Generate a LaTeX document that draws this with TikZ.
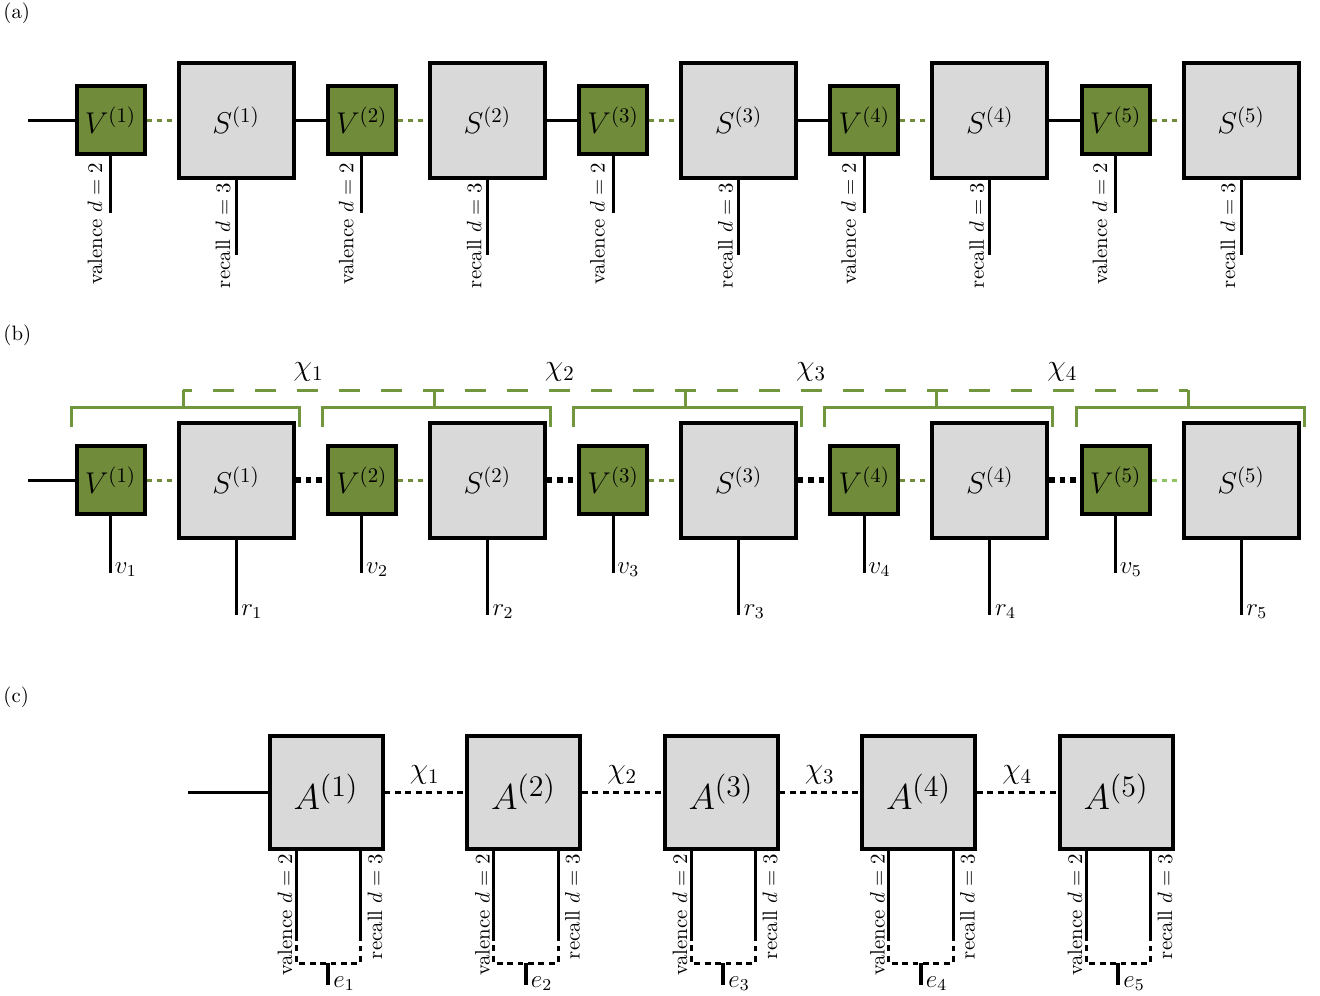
\documentclass[tikz,border=0pt]{standalone}
\usepackage{amsmath}
\definecolor{vgreen}{RGB}{112,139,58}
\definecolor{bgreen}{RGB}{114,150,62}
\definecolor{lgreen}{RGB}{144,196,96}
\definecolor{sgray}{RGB}{217,217,217}
\tikzset{
  vbox/.style={draw, line width=1.92pt, fill=vgreen, minimum size=32.64pt, inner sep=0pt, font=\Large},
  sbox/.style={draw, line width=1.92pt, fill=sgray, minimum size=55.2pt, inner sep=0pt, font=\Large},
  abox/.style={draw, line width=1.92pt, fill=sgray, minimum size=54.24pt, inner sep=0pt, font=\fontsize{19}{23}\selectfont},
  wire/.style={line width=1.44pt},
  gdot/.style={vgreen, line width=1.44pt, dash pattern=on 2.4pt off 2.4pt},
  ldot/.style={lgreen, line width=1.44pt, dash pattern=on 2.4pt off 2.4pt},
  kdot/.style={line width=2.7pt, dash pattern=on 2.6pt off 2.4pt},
  cdash/.style={line width=1.44pt, dash pattern=on 2.8pt off 2.2pt},
  brk/.style={bgreen, line width=1.44pt},
  bdash/.style={bgreen, line width=1.44pt, dash pattern=on 10.08pt off 10.08pt, dash phase=5.76pt},
  vlab/.style={rotate=90, anchor=base east, inner sep=0pt, font=\normalsize},
  idx/.style={anchor=base west, inner sep=0pt, font=\large},
  chilab/.style={midway, anchor=south, inner sep=0pt, font=\Large, text=black},
  panel/.style={anchor=north west, inner sep=0pt, font=\normalsize}
}
\begin{document}
\begin{tikzpicture}[x=0.48pt,y=-0.48pt]
\useasboundingbox (0,0) rectangle (1320,996);
\node[panel] (pa) at (3,2) {(a)};
\node[panel] (pb) at (3,324) {(b)};
\node[panel] (pc) at (3,686) {(c)};

% ---------------- (a)
\foreach \i in {1,...,5}{
  \pgfmathsetmacro\vx{110.5+251.25*(\i-1)}
  \pgfmathsetmacro\sx{236+251.25*(\i-1)}
  \node[vbox] (va\i) at (\vx,120) {$V^{(\i)}$};
  \node[sbox] (sa\i) at (\sx,120) {$S^{(\i)}$};
  \coordinate (vae\i) at (\vx,213);
  \coordinate (sae\i) at (\sx,255);
  \draw[wire] (va\i.south) -- (vae\i);
  \draw[wire] (sa\i.south) -- (sae\i);
  \node[vlab] (vla\i) at (\vx-8.5,163) {valence $d=2$};
  \node[vlab] (rla\i) at (\sx-6,183) {recall $d=3$};
  \draw[gdot] (va\i.east) -- (sa\i.west);
}
\coordinate (ina) at (28,120);
\draw[wire] (ina) -- (va1.west);
\foreach \i/\j in {1/2,2/3,3/4,4/5}{
  \draw[wire] (sa\i.east) -- (va\j.west);
}

% ---------------- (b)
\foreach \i in {1,...,5}{
  \pgfmathsetmacro\vx{110.5+251.25*(\i-1)}
  \pgfmathsetmacro\sx{236+251.25*(\i-1)}
  \pgfmathsetmacro\bl{\vx-39.5}
  \pgfmathsetmacro\br{\sx+63}
  \pgfmathsetmacro\bc{\vx+72.5}
  \node[vbox] (vb\i) at (\vx,480) {$V^{(\i)}$};
  \node[sbox] (sb\i) at (\sx,480) {$S^{(\i)}$};
  \coordinate (vbe\i) at (\vx,573);
  \coordinate (sbe\i) at (\sx,615);
  \draw[wire] (vb\i.south) -- (vbe\i);
  \draw[wire] (sb\i.south) -- (sbe\i);
  \node[idx] (vl\i) at (\vx+4,573) {$v_{\i}$};
  \node[idx] (rl\i) at (\sx+5,615) {$r_{\i}$};
  \draw[brk] (\bl,427) -- (\bl,407) -- (\br,407) -- (\br,427);
  \coordinate (bt\i) at (\bc,390);
  \draw[brk] (\bc,407) -- (bt\i);
}
\foreach \i in {1,...,4}{
  \draw[gdot] (vb\i.east) -- (sb\i.west);
}
\draw[ldot] (vb5.east) -- (sb5.west);
\coordinate (inb) at (28,480);
\draw[wire] (inb) -- (vb1.west);
\foreach \i/\j in {1/2,2/3,3/4,4/5}{
  \draw[kdot] (sb\i.east) -- (vb\j.west);
}
\draw[bdash] (bt1) -- node[chilab, yshift=3.4pt] {$\chi_1$} (bt2)
                   -- node[chilab, yshift=3.4pt] {$\chi_2$} (bt3)
                   -- node[chilab, yshift=3.4pt] {$\chi_3$} (bt4)
                   -- node[chilab, yshift=3.4pt] {$\chi_4$} (bt5);

% ---------------- (c)
\foreach \i in {1,...,5}{
  \pgfmathsetmacro\ax{326+197.5*(\i-1)}
  \node[abox] (ac\i) at (\ax,792) {$A^{(\i)}$};
  \coordinate (la\i) at (\ax-30,935);
  \coordinate (ra\i) at (\ax+34.5,935);
  \coordinate (lb\i) at (\ax-30,963);
  \coordinate (rb\i) at (\ax+34.5,963);
  \coordinate (et\i) at (\ax+2.25,963);
  \coordinate (eb\i) at (\ax+2.25,985);
  \draw[wire] (\ax-30,848) -- (la\i);
  \draw[wire] (\ax+34.5,848) -- (ra\i);
  \draw[cdash] (la\i) -- (lb\i) -- (rb\i) -- (ra\i);
  \draw[line width=1.92pt] (et\i) -- (eb\i);
  \node[idx] (el\i) at (\ax+7,987) {$e_{\i}$};
  \node[vlab] (vlc\i) at (\ax-34,854) {valence $d=2$};
  \node[vlab] (rlc\i) at (\ax+56,854) {recall $d=3$};
}
\coordinate (inc) at (188,792);
\draw[wire] (inc) -- (ac1.west);
\foreach \i/\j in {1/2,2/3,3/4,4/5}{
  \draw[cdash] (ac\i.east) -- node[chilab, yshift=2.9pt] {$\chi_{\i}$} (ac\j.west);
}
\end{tikzpicture}
\end{document}
